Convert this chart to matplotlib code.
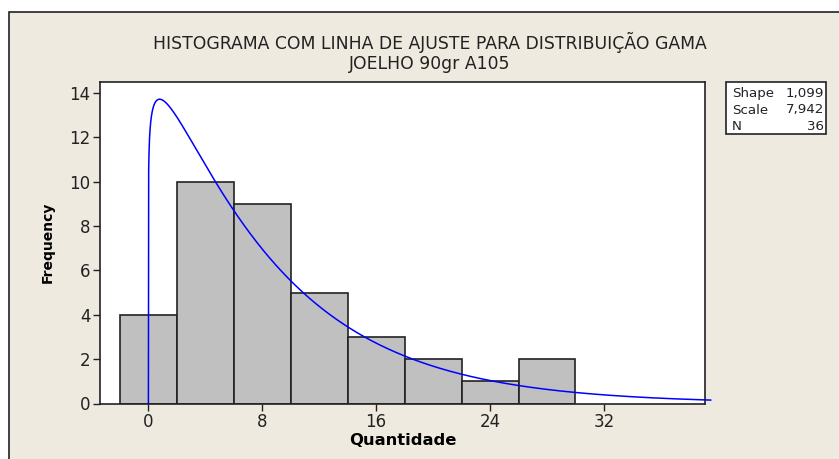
import math
import numpy as np
import matplotlib
matplotlib.use("Agg")
import matplotlib.pyplot as plt
from matplotlib.patches import Rectangle

plt.rcParams["font.family"] = ["DejaVu Sans"]

# Data
bin_centers = [0, 4, 8, 12, 16, 20, 24, 28]
counts = [4, 10, 9, 5, 3, 2, 1, 2]
bin_width = 4
shape = 1.099
scale = 7.942
n_obs = 36
x_ticks = [0, 8, 16, 24, 32]
y_ticks = [0, 2, 4, 6, 8, 10, 12, 14]
title = "HISTOGRAMA COM LINHA DE AJUSTE PARA DISTRIBUIÇÃO GAMA\nJOELHO 90gr A105"

W, H = 839, 459
fig = plt.figure(figsize=(W / 100, H / 100), dpi=100)
fig.patch.set_facecolor("white")
bg = "#EEEAE0"
# framed panel (cut at right/bottom)
panel = Rectangle((8.5 / W, -0.05), 1.1, 1 - 11.5 / H + 0.05, transform=fig.transFigure,
                  facecolor=bg, edgecolor="#222222", linewidth=1.2, zorder=-10)
fig.add_artist(panel)

ax = fig.add_axes([100 / W, 1 - 403.5 / H, (705 - 100) / W, (403.5 - 82) / H])
ax.set_zorder(5)
ax.set_facecolor("white")
ax.bar(bin_centers, counts, width=bin_width, color="#C0C0C0", edgecolor="#222222", linewidth=1.2, zorder=2)

xs = np.linspace(0, 39.5, 2000)
pdf = xs ** (shape - 1) * np.exp(-xs / scale) / (math.gamma(shape) * scale ** shape)
ax.plot(xs, pdf * n_obs * bin_width, color="#0000FF", linewidth=1.1, zorder=3, clip_on=False)

ax.set_xlim(-3.4, 39.1)
ax.set_ylim(0, 14.5)
ax.set_xticks(x_ticks)
ax.set_yticks(y_ticks)
ax.tick_params(direction="out", length=5, width=1, labelsize=12, colors="#222222", pad=2)
for s in ax.spines.values():
    s.set_linewidth(1.2)
    s.set_color("#222222")

ax.set_xlabel("Quantidade", fontsize=11.8, fontweight="bold", labelpad=1)
ax.set_ylabel("Frequency", fontsize=10, fontweight="bold", labelpad=10)

fig.text(430 / W, 1 - 52.5 / H, title, ha="center", va="center", fontsize=12.4, linespacing=1.2, color="#222222")

# parameter box
bx0, by0, bx1, by1 = 726, 82, 826, 134
box = Rectangle((bx0 / W, 1 - by1 / H), (bx1 - bx0) / W, (by1 - by0) / H,
                transform=fig.transFigure, facecolor="white", edgecolor="#222222", linewidth=1.2, zorder=1)
fig.add_artist(box)
rows = [("Shape", f"{shape:.3f}".replace(".", ",")), ("Scale", f"{scale:.3f}".replace(".", ",")), ("N", str(n_obs))]
for i, (k, v) in enumerate(rows):
    y = 1 - (93 + i * 17) / H
    fig.text(732 / W, y, k, ha="left", va="center", fontsize=9.6, color="#222222", zorder=2)
    fig.text(824 / W, y, v, ha="right", va="center", fontsize=9.6, color="#222222", zorder=2)

fig.savefig("out.png", dpi=100, facecolor=fig.get_facecolor())
